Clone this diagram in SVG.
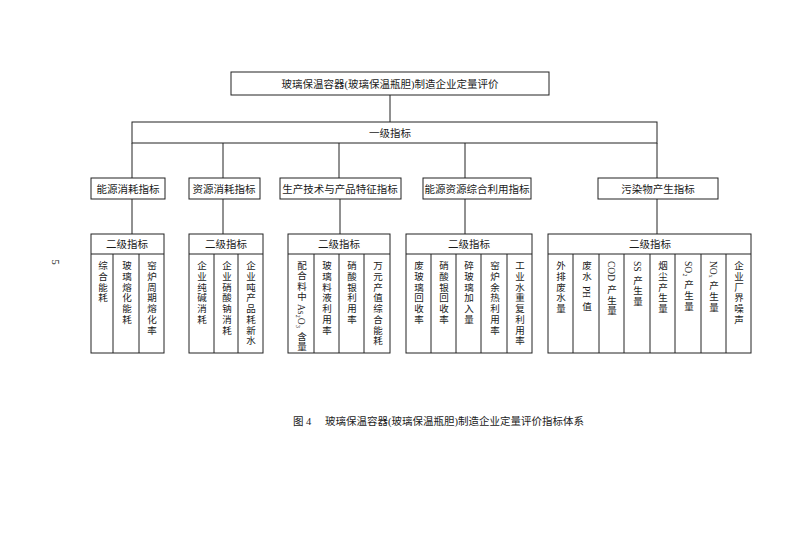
<svg xmlns="http://www.w3.org/2000/svg" width="793" height="545" viewBox="0 0 793 545">
<style>
  .bx { fill: #ffffff; stroke: #222; stroke-width: 1; }
  .ln { fill: none; stroke: #222; stroke-width: 1; }
  .t { font-family: "Liberation Serif", "Noto Sans CJK SC", serif; font-size: 10.5px; fill: #1a1a1a; text-anchor: middle; dominant-baseline: central; }
  .v { font-family: "Liberation Serif", "Noto Sans CJK SC", serif; font-size: 9.5px; fill: #1a1a1a; writing-mode: vertical-rl; letter-spacing: 1.2px; }
  .v.tight { letter-spacing: 0.6px; }
  .lat { letter-spacing: 0; }
  .cap { font-family: "Liberation Serif", "Noto Sans CJK SC", serif; font-size: 10.5px; fill: #1a1a1a; dominant-baseline: central; }
</style>
<rect width="793" height="545" fill="#ffffff"/>

<g id="connectors">
  <line class="ln" x1="390" y1="95" x2="390" y2="122"/>
  <line class="ln" x1="132" y1="143" x2="132" y2="178"/>
  <line class="ln" x1="223" y1="143" x2="223" y2="178"/>
  <line class="ln" x1="339" y1="143" x2="339" y2="178"/>
  <line class="ln" x1="465" y1="143" x2="465" y2="178"/>
  <line class="ln" x1="657" y1="143" x2="657" y2="178"/>
  <line class="ln" x1="132" y1="199" x2="132" y2="234"/>
  <line class="ln" x1="223" y1="199" x2="223" y2="234"/>
  <line class="ln" x1="340" y1="199" x2="340" y2="234"/>
  <line class="ln" x1="465" y1="199" x2="465" y2="234"/>
  <line class="ln" x1="657" y1="199" x2="657" y2="234"/>
</g>

<g id="root">
  <rect class="bx" x="231" y="72" width="318" height="23"/>
  <text class="t" x="390" y="84" font-size="10px">玻璃保温容器(玻璃保温瓶胆)制造企业定量评价</text>
</g>

<g id="level1">
  <rect class="bx" x="132" y="122" width="525" height="21"/>
  <text class="t" x="390" y="133">一级指标</text>
</g>

<g id="n-energy">
  <rect class="bx" x="91" y="178" width="74" height="21"/>
  <text class="t" x="128" y="189">能源消耗指标</text>
</g>
<g id="n-resource">
  <rect class="bx" x="189" y="178" width="71" height="21"/>
  <text class="t" x="224" y="189">资源消耗指标</text>
</g>
<g id="n-production">
  <rect class="bx" x="280" y="178" width="121" height="21"/>
  <text class="t" x="340" y="189">生产技术与产品特征指标</text>
</g>
<g id="n-reuse">
  <rect class="bx" x="423" y="178" width="108" height="21"/>
  <text class="t" x="477" y="189">能源资源综合利用指标</text>
</g>
<g id="n-pollution">
  <rect class="bx" x="598" y="178" width="120" height="21"/>
  <text class="t" x="658" y="189">污染物产生指标</text>
</g>

<g id="s-energy">
  <rect class="bx" x="91" y="234" width="73" height="119"/>
  <line class="ln" x1="91" y1="254" x2="164" y2="254"/>
  <line class="ln" x1="113" y1="254" x2="113" y2="353"/>
  <line class="ln" x1="139" y1="254" x2="139" y2="353"/>
  <text class="t" x="127" y="244">二级指标</text>
  <text class="v" x="102" y="261">综合能耗</text>
  <text class="v" x="126" y="261">玻璃熔化能耗</text>
  <text class="v" x="151" y="261">窑炉周期熔化率</text>
</g>

<g id="s-resource">
  <rect class="bx" x="189" y="234" width="74" height="119"/>
  <line class="ln" x1="189" y1="254" x2="263" y2="254"/>
  <line class="ln" x1="214" y1="254" x2="214" y2="353"/>
  <line class="ln" x1="238" y1="254" x2="238" y2="353"/>
  <text class="t" x="226" y="244">二级指标</text>
  <text class="v" x="201" y="261">企业纯碱消耗</text>
  <text class="v" x="226" y="261">企业硝酸钠消耗</text>
  <text class="v" x="250" y="261">企业吨产品耗新水</text>
</g>

<g id="s-production">
  <rect class="bx" x="288" y="234" width="102" height="119"/>
  <line class="ln" x1="288" y1="254" x2="390" y2="254"/>
  <line class="ln" x1="314" y1="254" x2="314" y2="353"/>
  <line class="ln" x1="339" y1="254" x2="339" y2="353"/>
  <line class="ln" x1="364" y1="254" x2="364" y2="353"/>
  <text class="t" x="339" y="244">二级指标</text>
  <text class="v tight" x="301" y="261">配合料中 <tspan class="lat">As₂O₃</tspan> 含量</text>
  <text class="v" x="326" y="261">玻璃料液利用率</text>
  <text class="v" x="351" y="261">硝酸银利用率</text>
  <text class="v" x="377" y="261">万元产值综合能耗</text>
</g>

<g id="s-reuse">
  <rect class="bx" x="406" y="234" width="126" height="119"/>
  <line class="ln" x1="406" y1="254" x2="532" y2="254"/>
  <line class="ln" x1="431" y1="254" x2="431" y2="353"/>
  <line class="ln" x1="456" y1="254" x2="456" y2="353"/>
  <line class="ln" x1="481" y1="254" x2="481" y2="353"/>
  <line class="ln" x1="507" y1="254" x2="507" y2="353"/>
  <text class="t" x="469" y="244">二级指标</text>
  <text class="v" x="418" y="261">废玻璃回收率</text>
  <text class="v" x="443" y="261">硝酸银回收率</text>
  <text class="v" x="468" y="261">碎玻璃加入量</text>
  <text class="v" x="494" y="261">窑炉余热利用率</text>
  <text class="v" x="519" y="261">工业水重复利用率</text>
</g>

<g id="s-pollution">
  <rect class="bx" x="548" y="234" width="203" height="119"/>
  <line class="ln" x1="548" y1="254" x2="751" y2="254"/>
  <line class="ln" x1="573" y1="254" x2="573" y2="353"/>
  <line class="ln" x1="599" y1="254" x2="599" y2="353"/>
  <line class="ln" x1="624" y1="254" x2="624" y2="353"/>
  <line class="ln" x1="650" y1="254" x2="650" y2="353"/>
  <line class="ln" x1="675" y1="254" x2="675" y2="353"/>
  <line class="ln" x1="701" y1="254" x2="701" y2="353"/>
  <line class="ln" x1="726" y1="254" x2="726" y2="353"/>
  <text class="t" x="650" y="244">二级指标</text>
  <text class="v" x="560" y="261">外排废水量</text>
  <text class="v" x="586" y="261">废水 <tspan class="lat">PH</tspan> 值</text>
  <text class="v" x="611" y="261"><tspan class="lat">COD</tspan> 产生量</text>
  <text class="v" x="637" y="261"><tspan class="lat">SS</tspan> 产生量</text>
  <text class="v" x="662" y="261">烟尘产生量</text>
  <text class="v" x="688" y="261"><tspan class="lat">SO₂</tspan> 产生量</text>
  <text class="v" x="713" y="261"><tspan class="lat">NOₓ</tspan> 产生量</text>
  <text class="v" x="738" y="261">企业厂界噪声</text>
</g>

<text class="cap" x="293" y="421">图 4</text>
<text class="cap" x="325" y="421">玻璃保温容器(玻璃保温瓶胆)制造企业定量评价指标体系</text>
<text class="t" x="55" y="262" font-size="8px" fill="#666" transform="rotate(90 55 262)">5</text>
</svg>
